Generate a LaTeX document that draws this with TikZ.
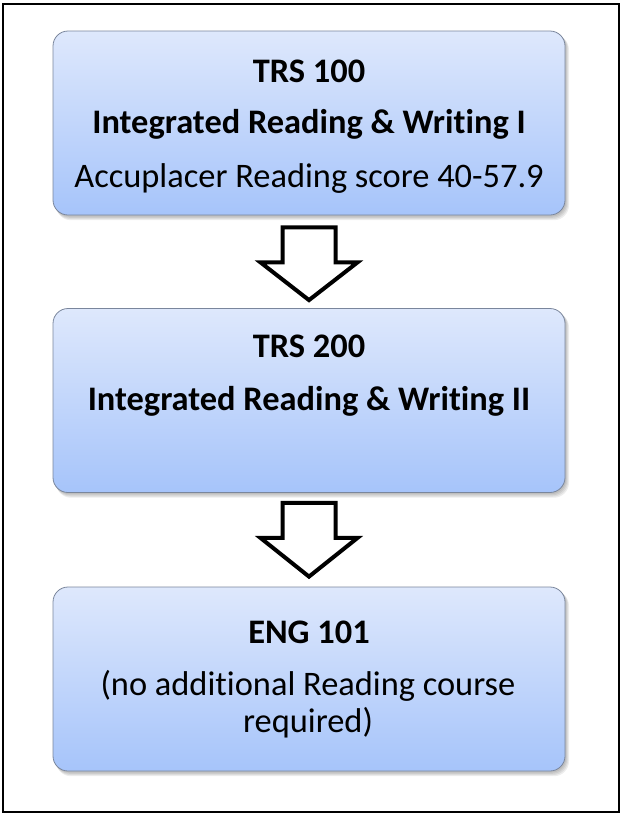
\documentclass[tikz,border=0pt]{standalone}
\usepackage{fontspec}
\setmainfont{Carlito}[Ligatures=NoCommon]
\usetikzlibrary{calc}
\definecolor{boxtop}{RGB}{222,232,252}
\definecolor{boxbot}{RGB}{166,196,250}
\definecolor{boxline}{RGB}{122,134,156}
\tikzset{
  coursebox/.style={rounded corners=15pt, minimum width=512pt, minimum height=184pt,
    inner sep=0pt, draw=boxline, line width=0.8pt, top color=boxtop, bottom color=boxbot},
  boxshadow/.style={rounded corners=15pt, fill=black, fill opacity=0.07, draw=none},
  line/.style={anchor=base, inner sep=0pt, font=\fontsize{34.4}{41}\selectfont},
  boldline/.style={line, font=\fontsize{34.4}{41}\selectfont\bfseries},
  blockarrow/.style={draw=black, fill=white, line width=4pt, line join=miter}
}
\newcommand{\shadowfor}[1]{%
  \foreach \d in {1,2,3,4}{%
    \fill[boxshadow] ($(#1.north west)+(1+\d*0.6,1+\d*0.8)$) rectangle ($(#1.south east)+(\d*0.9,\d*1.2)$);
  }%
}
\newcommand{\downarrowshape}[2]{%
  \draw[blockarrow] ($(#1)+(-26.5,0)$) -- ($(#1)+(26.5,0)$) -- ($(#1)+(26.5,35)$) -- ($(#1)+(48.5,35)$)
    -- (#2) -- ($(#1)+(-48.5,35)$) -- ($(#1)+(-26.5,35)$) -- cycle;
}
\begin{document}
\begin{tikzpicture}[x=1pt,y=-1pt]
\useasboundingbox (0,0) rectangle (623,815);
\node[draw=black, line width=1.5pt, minimum width=616pt, minimum height=808pt, inner sep=0pt] (frame) at (311,408) {};
% boxes (geometry only, shadows first)
\path node[coursebox, draw=none, opacity=0] (box1) at (309,123) {}
      node[coursebox, draw=none, opacity=0] (box2) at (309,400.5) {}
      node[coursebox, draw=none, opacity=0] (box3) at (309,679) {};
\shadowfor{box1}
\shadowfor{box2}
\shadowfor{box3}
\node[coursebox] (b1) at (box1) {};
\node[coursebox] (b2) at (box2) {};
\node[coursebox] (b3) at (box3) {};
% texts
\node[boldline] (t1a) at (309,82) {TRS 100};
\node[boldline] (t1b) at (309,133) {Integrated Reading \& Writing I};
\node[line] (t1c) at (309,187) {Accuplacer Reading score 40-57.9};
\node[boldline] (t2a) at (309,357) {TRS 200};
\node[boldline] (t2b) at (309,410) {Integrated Reading \& Writing II};
\node[boldline] (t3a) at (309,643) {ENG 101};
\node[line] (t3b) at (308,695) {(no additional Reading course};
\node[line] (t3c) at (308,732) {required)};
% arrows
\coordinate (a1top) at ($(b1.south)+(0,12)$);
\coordinate (a1tip) at ($(b2.north)+(0,-8)$);
\coordinate (a2top) at ($(b2.south)+(0,10)$);
\coordinate (a2tip) at ($(b3.north)+(0,-10)$);
\downarrowshape{a1top}{a1tip}
\downarrowshape{a2top}{a2tip}
\end{tikzpicture}
\end{document}
